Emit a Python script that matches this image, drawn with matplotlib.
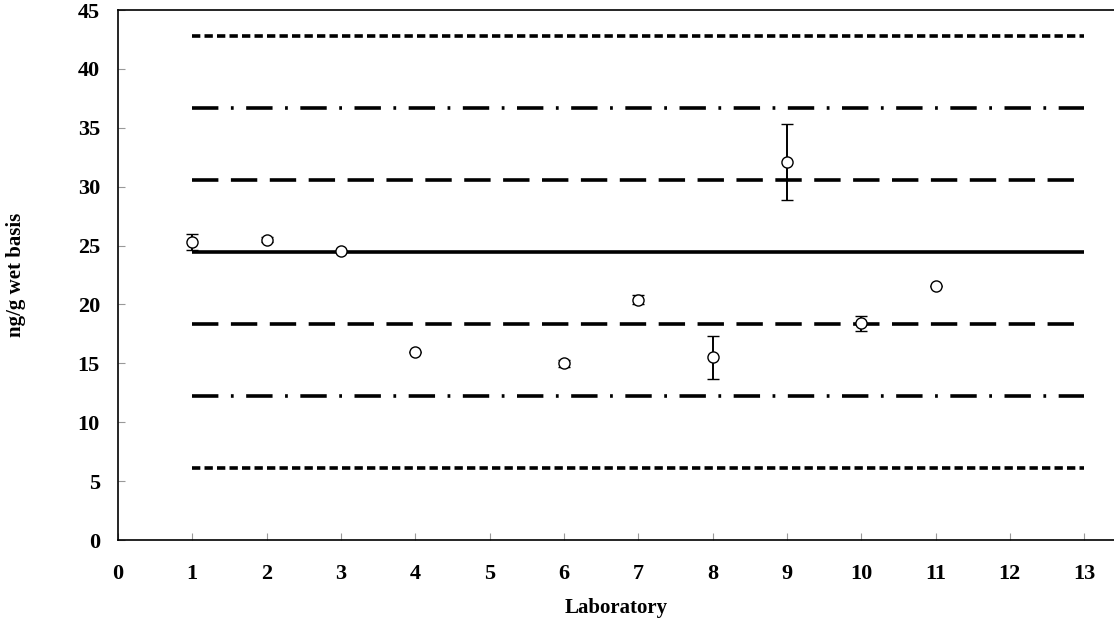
import numpy as np
import matplotlib.pyplot as plt

plt.rcParams['font.family'] = ['Liberation Serif', 'DejaVu Serif']
plt.rcParams['font.weight'] = 'bold'
plt.rcParams['lines.scale_dashes'] = False

# laboratory results
labs = [1, 2, 3, 4, 6, 7, 8, 9, 10, 11]
means = [25.3, 25.5, 24.5, 16.0, 15.0, 20.4, 15.5, 32.1, 18.4, 21.6]
errs = [0.7, 0.2, 0.0, 0.0, 0.3, 0.4, 1.85, 3.25, 0.65, 0.0]

# reference lines (consensus value and limits)
line_x = [1, 13]
center = 24.45
limits_1 = [18.35, 30.6]
limits_2 = [12.25, 36.7]
limits_3 = [6.15, 42.8]

fig = plt.figure(figsize=(11.14, 6.25), dpi=100)
ax = fig.add_axes([0.1059, 0.136, 0.894, 0.848])

ax.plot(line_x, [center, center], color='black', lw=2.6, solid_capstyle='butt')
for v in limits_1:
    ax.plot(line_x, [v, v], color='black', lw=2.6, linestyle=(0, (19, 9)))
for v in limits_2:
    ax.plot(line_x, [v, v], color='black', lw=2.6, linestyle=(0, (19, 9, 2, 9)))
for v in limits_3:
    ax.plot(line_x, [v, v], color='black', lw=2.6, linestyle=(0, (6, 3)))

ax.errorbar(labs, means, yerr=errs, fmt='o', mfc='white', mec='black', mew=1.0,
            ms=8, ecolor='black', elinewidth=1.4, capsize=4, capthick=1.4, zorder=5)

ax.set_xlim(0, 13.4)
ax.set_ylim(0, 45)
ax.set_xticks(range(0, 14))
ax.set_yticks(range(0, 46, 5))
ax.tick_params(direction='in', color='#999999', length=5, labelsize=16)
ax.tick_params(axis='y', pad=13)
ax.tick_params(axis='x', pad=17)
for label in ax.get_xticklabels() + ax.get_yticklabels():
    label.set_fontweight('bold')
ax.spines['right'].set_visible(False)
for s in ['left', 'bottom', 'top']:
    ax.spines[s].set_linewidth(1.2)

ax.set_xlabel('Laboratory', fontsize=15, fontweight='bold')
ax.set_ylabel('ng/g wet basis', fontsize=15, fontweight='bold')
ax.xaxis.set_label_coords(0.5, -0.109)
ax.yaxis.set_label_coords(-0.092, 0.5)

fig.savefig('out.png', dpi=100)
